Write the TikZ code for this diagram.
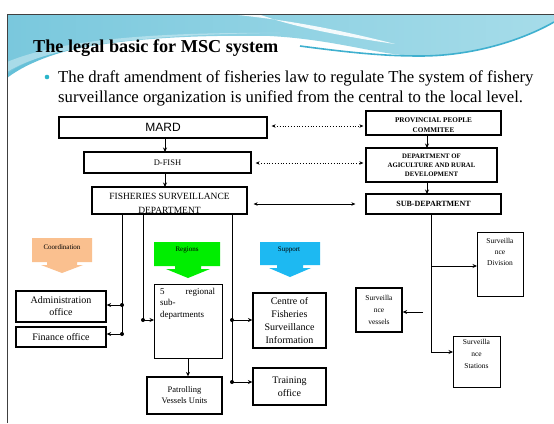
\documentclass[tikz,border=0pt]{standalone}
\usepackage{fontspec}
\setmainfont{Liberation Serif}
\newfontfamily\arialf{Liberation Sans}
\usetikzlibrary{arrows.meta}
\definecolor{hdrA}{HTML}{7AC8DD}
\definecolor{hdrB}{HTML}{A6DCE9}
\definecolor{hdrLine}{HTML}{3FB0CF}
\definecolor{bul}{HTML}{2BB5C9}
\definecolor{coordc}{HTML}{FAC08F}
\definecolor{regc}{HTML}{00EE00}
\definecolor{supc}{HTML}{1DB9F2}
\begin{document}
\begin{tikzpicture}[x=1pt,y=-1pt,
  box/.style={draw=black, line width=1.3pt, fill=white, inner sep=1pt, align=center},
  conn/.style={line width=0.9pt, -{Stealth[length=4.5pt,width=4pt]}},
  dline/.style={line width=0.9pt},
  dotconn/.style={line width=0.8pt, dotted, {Stealth[length=4pt,width=3.5pt]}-{Stealth[length=4pt,width=3.5pt]}, shorten <=4pt, shorten >=2pt},
  solconn/.style={line width=0.6pt, {Stealth[length=4pt,width=3.5pt]}-{Stealth[length=4pt,width=3.5pt]}},
  jdot/.style={circle, fill=black, inner sep=0pt, minimum size=4pt},
  lbl/.style={inner sep=0pt, align=center}
]
\useasboundingbox (0,0) rectangle (554,423);
\fill[white] (0,0) rectangle (554,423);
% header swoosh
\shade[left color=hdrA, right color=hdrB]
  (7,14) -- (554,14) -- (554,22) .. controls (530,36) and (480,56) .. (420,56)
  .. controls (380,56) and (340,40) .. (270,36)
  .. controls (150,34) and (50,45) .. (7,74) -- cycle;
\fill[white, opacity=0.9] (228,14) .. controls (290,20) and (340,30) .. (395,44)
  .. controls (340,36) and (290,26) .. (258,14) -- cycle;
\fill[white, opacity=0.35] (7,62) .. controls (60,40) and (150,32) .. (280,33)
  .. controls (150,34) and (50,45) .. (7,72) -- cycle;
\draw[hdrLine, line width=1.6pt] (300,46) .. controls (360,54) and (390,56) .. (420,56)
  .. controls (480,56) and (530,36) .. (554,22);
\fill[hdrLine!80] (7,74) .. controls (20,64) and (40,56) .. (70,50)
  .. controls (40,58) and (20,68) .. (7,78) -- cycle;
\draw[black!75, line width=0.8pt] (7,423) -- (7,14) -- (554,14);
% title and bullet text
\node[anchor=base west, inner sep=0pt, font=\fontsize{18.2}{20}\selectfont\bfseries] (title) at (33,52) {The legal basic for MSC system};
\fill[bul] (47,77) circle (2.3pt);
\node[anchor=base west, inner sep=0pt, font=\fontsize{16.7}{18}\selectfont] (l1) at (58,82) {The draft amendment of fisheries law to regulate The system of fishery};
\node[anchor=base west, inner sep=0pt, font=\fontsize{16.7}{18}\selectfont] (l2) at (58,102) {surveillance organization is unified from the central to the local level.};
% left column
\node[box, minimum width=208pt, minimum height=21pt, font=\arialf\fontsize{12}{14}\selectfont] (mard) at (163,127.5) {MARD};
\node[box, minimum width=167pt, minimum height=21pt, font=\fontsize{8.5}{10}\selectfont] (dfish) at (167.5,162.5) {D-FISH};
\node[box, minimum width=155pt, minimum height=27pt] (fsd) at (169.5,200.5) {};
\node[lbl, font=\fontsize{9.5}{14}\selectfont] (fsdt) at (169.5,203.5) {FISHERIES SURVEILLANCE\\DEPARTMENT};
% right column
\node[box, minimum width=135pt, minimum height=24pt] (ppc) at (433.5,123) {};
\node[lbl, font=\fontsize{7.2}{10}\selectfont\bfseries] (ppct) at (433.5,125.5) {PROVINCIAL PEOPLE\\COMMITEE};
\node[box, minimum width=131pt, minimum height=34pt, font=\fontsize{6.8}{9}\selectfont\bfseries] (dard) at (431.5,165) {DEPARTMENT OF\\AGICULTURE AND RURAL\\DEVELOPMENT};
\node[box, minimum width=135pt, minimum height=20pt, font=\fontsize{8}{10}\selectfont\bfseries] (sub) at (433.5,204) {SUB-DEPARTMENT};
% vertical arrows
\draw[conn] (165,138) -- (165,152);
\draw[conn] (165,173) -- (165,187);
\draw[conn] (427,135) -- (427,148);
\draw[conn] (427,182) -- (427,194);
% horizontal links
\draw[dotconn] (mard.east |- 0,126) -- (ppc.west |- 0,126);
\draw[dotconn] (dfish.east |- 0,163) -- (dard.west |- 0,163);
\draw[solconn, shorten <=6pt, shorten >=10pt] (fsd.east |- 0,204) -- (sub.west |- 0,204);
% callout arrows
\fill[coordc] (32,238) -- (92,238) -- (92,262) -- (77,262) -- (77,265) -- (83,265) -- (62,273) -- (41,265) -- (47,265) -- (47,262) -- (32,262) -- cycle;
\node[lbl, font=\fontsize{7}{8}\selectfont] (coord) at (62,247) {Coordination};
\fill[regc] (154,242) -- (220,242) -- (220,266) -- (201,266) -- (201,269) -- (210,269) -- (188,278) -- (166,269) -- (175,269) -- (175,266) -- (154,266) -- cycle;
\node[lbl, font=\fontsize{7}{8}\selectfont] (reg) at (187,250) {Regions};
\fill[supc] (260,242) -- (320,242) -- (320,265) -- (303,265) -- (303,268) -- (311,268) -- (290,277) -- (269,268) -- (277,268) -- (277,265) -- (260,265) -- cycle;
\node[lbl, font=\fontsize{7}{8}\selectfont] (sup) at (289,250) {Support};
% lower boxes
\node[box, minimum width=90pt, minimum height=31pt, font=\fontsize{10}{12}\selectfont] (admin) at (61,306.5) {Administration\\office};
\node[box, minimum width=90pt, minimum height=20pt, font=\fontsize{10}{12}\selectfont] (fin) at (61,337) {Finance office};
\node[box, minimum width=68pt, minimum height=74pt, anchor=north west] (reg5) at (154,284) {};
\node[lbl, anchor=north west, text width=55pt, align=left, font=\fontsize{9}{11.5}\selectfont] (reg5t) at (160,288) {5\hfill regional\\sub-\\departments};
\node[box, minimum width=75pt, minimum height=37pt, font=\fontsize{8.5}{11}\selectfont] (patrol) at (184.5,395.5) {Patrolling\\Vessels Units};
\node[box, minimum width=73pt, minimum height=55pt, font=\fontsize{10}{13}\selectfont] (centre) at (289.5,320.5) {Centre of\\Fisheries\\Surveillance\\Information};
\node[box, minimum width=73pt, minimum height=37pt, font=\fontsize{10}{13}\selectfont] (train) at (289.5,386.5) {Training\\office};
% right lower boxes
\node[box, minimum width=46pt, minimum height=64pt, anchor=north west] (div) at (477,232) {};
\node[lbl, anchor=north, font=\fontsize{7.5}{11}\selectfont] (divt) at (500,238) {Surveilla\\nce\\Division};
\node[box, minimum width=46pt, minimum height=44pt, font=\fontsize{7.5}{12}\selectfont] (ves) at (379,310) {Surveilla\\nce\\vessels};
\node[box, minimum width=47pt, minimum height=51pt, anchor=north west] (sta) at (453,336) {};
\node[lbl, anchor=north, font=\fontsize{7.5}{12}\selectfont] (stat) at (476.5,339) {Surveilla\\nce\\Stations};
% left tree
\coordinate (ja) at (122,305);
\coordinate (jb) at (122,334);
\draw[dline] (122,214) -- (jb);
\node[jdot] at (ja) {}; \node[jdot] at (jb) {};
\draw[conn] (ja) -- (admin.east |- ja);
\draw[conn] (jb) -- (fin.east |- jb);
\coordinate (jc) at (143,320);
\draw[dline] (143,214) -- (jc);
\node[jdot] at (jc) {};
\draw[conn] (jc) -- (reg5.west |- jc);
\coordinate (jd) at (232,320);
\coordinate (je) at (232,382);
\draw[dline] (232,214) -- (je);
\node[jdot] at (jd) {}; \node[jdot] at (je) {};
\draw[conn] (jd) -- (centre.west |- jd);
\draw[conn] (je) -- (train.west |- je);
\draw[conn] (reg5.south -| 188,0) -- (patrol.north -| 188,0);
% right tree
\coordinate (rb) at (431,352);
\draw[dline] (431,214) -- (rb);
\draw[conn] (rb) -- (sta.west |- rb);
\draw[conn] (431,266) -- (div.west |- 0,266);
\coordinate (vs) at (423,312);
\draw[conn] (vs) -- (ves.east |- vs);
\end{tikzpicture}
\end{document}
